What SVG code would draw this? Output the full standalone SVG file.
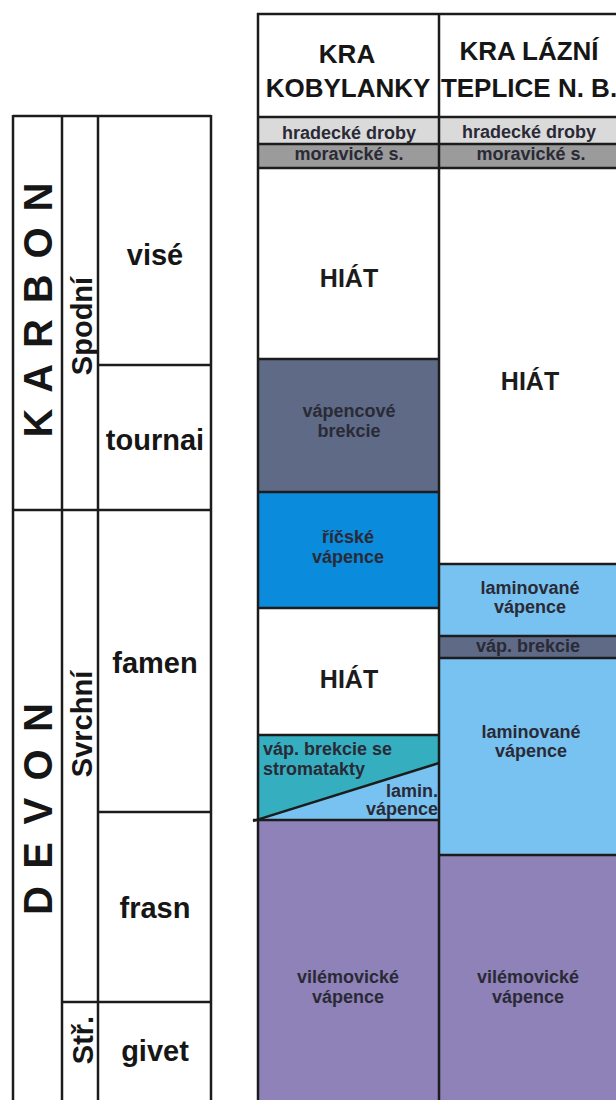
<svg xmlns="http://www.w3.org/2000/svg" width="616" height="1100" viewBox="0 0 616 1100">
<style>
text{font-family:"Liberation Sans",Arial,sans-serif;font-weight:bold}
.grid line,.grid rect{stroke:#1c1c1c;stroke-width:2.5;fill:none}
.lab{font-size:18px;fill:#2a2a36;text-anchor:middle}
.hdr{font-size:26px;fill:#161616;text-anchor:middle}
.stage{font-size:29px;fill:#161616;text-anchor:middle}
.big{font-size:40px;fill:#161616}
.hiat{font-size:25px;fill:#1c1c1c;text-anchor:middle}
.c-hrad{fill:#dadada}.c-mor{fill:#9b9b9b}.c-brek{fill:#5e6a86}.c-ric{fill:#0a8bdb}
.c-lam{fill:#78c2f1}.c-teal{fill:#35afc0}.c-vil{fill:#8e82b8}.c-w{fill:#ffffff}
</style>
<rect width="616" height="1100" fill="#ffffff"/>

<!-- left chronostratigraphic table -->
<g id="karbon"><text class="big" transform="translate(52,310) rotate(-90)" x="-127.5" y="0" textLength="255" lengthAdjust="spacing">KARBON</text></g>
<g id="devon"><text class="big" transform="translate(52,809) rotate(-90)" x="-106" y="0" textLength="212" lengthAdjust="spacing">DEVON</text></g>
<g id="spodni"><text class="stage" transform="translate(92,326) rotate(-90)" x="0" y="0">Spodní</text></g>
<g id="svrchni"><text class="stage" transform="translate(92,724) rotate(-90)" x="0" y="0">Svrchní</text></g>
<g id="str"><text class="stage" transform="translate(93,1040) rotate(-90)" x="0" y="0">Stř.</text></g>
<g id="vise"><text class="stage" x="155" y="265">visé</text></g>
<g id="tournai"><text class="stage" x="155" y="450">tournai</text></g>
<g id="famen"><text class="stage" x="155" y="673">famen</text></g>
<g id="frasn"><text class="stage" x="155" y="918">frasn</text></g>
<g id="givet"><text class="stage" x="155" y="1061">givet</text></g>

<!-- Kobylanky column -->
<g id="kob-header"><rect class="c-w" x="258" y="14" width="181" height="103"/>
<text class="hdr" x="347" y="63">KRA</text><text class="hdr" x="348" y="97">KOBYLANKY</text></g>
<g id="kob-hradecke"><rect class="c-hrad" x="258" y="117" width="181" height="27"/><text class="lab" x="349" y="139">hradecké droby</text></g>
<g id="kob-moravicke"><rect class="c-mor" x="258" y="144" width="181" height="24"/><text class="lab" x="349" y="160">moravické s.</text></g>
<g id="kob-hiat1"><rect class="c-w" x="258" y="168" width="181" height="191"/><text class="hiat" x="349" y="287">HIÁT</text></g>
<g id="kob-brekcie"><rect class="c-brek" x="258" y="359" width="181" height="133"/><text class="lab" x="349" y="417">vápencové</text><text class="lab" x="349" y="437">brekcie</text></g>
<g id="kob-ricske"><rect class="c-ric" x="258" y="492" width="181" height="116"/><text class="lab" x="348" y="543">říčské</text><text class="lab" x="348" y="563">vápence</text></g>
<g id="kob-hiat2"><rect class="c-w" x="258" y="608" width="181" height="127"/><text class="hiat" x="349" y="688">HIÁT</text></g>
<g id="kob-stromatakty"><rect class="c-teal" x="258" y="735" width="181" height="85"/><text class="lab" style="text-anchor:start" x="263" y="755">váp. brekcie se</text><text class="lab" style="text-anchor:start" x="263" y="775">stromatakty</text></g>
<g id="kob-lamin"><polygon class="c-lam" points="258,820 439,763 439,820"/><text class="lab" style="text-anchor:end" x="438" y="797">lamin.</text><text class="lab" style="text-anchor:end" x="438" y="815">vápence</text></g>
<g id="kob-vilemovicke"><rect class="c-vil" x="258" y="820" width="181" height="280"/><text class="lab" x="348" y="983">vilémovické</text><text class="lab" x="348" y="1003">vápence</text></g>

<!-- Lazni column -->
<g id="laz-header"><rect class="c-w" x="439" y="14" width="181" height="103"/>
<text class="hdr" x="529" y="60">KRA LÁZNÍ</text><text class="hdr" x="529" y="97">TEPLICE N. B.</text></g>
<g id="laz-hradecke"><rect class="c-hrad" x="439" y="117" width="181" height="27"/><text class="lab" x="529" y="138">hradecké droby</text></g>
<g id="laz-moravicke"><rect class="c-mor" x="439" y="144" width="181" height="24"/><text class="lab" x="531" y="160">moravické s.</text></g>
<g id="laz-hiat"><rect class="c-w" x="439" y="168" width="181" height="396"/><text class="hiat" x="530" y="390">HIÁT</text></g>
<g id="laz-lamin1"><rect class="c-lam" x="439" y="564" width="181" height="72"/><text class="lab" x="530" y="594">laminované</text><text class="lab" x="530" y="613">vápence</text></g>
<g id="laz-brekcie"><rect class="c-brek" x="439" y="636" width="181" height="22"/><text class="lab" x="528" y="652">váp. brekcie</text></g>
<g id="laz-lamin2"><rect class="c-lam" x="439" y="658" width="181" height="197"/><text class="lab" x="531" y="738">laminované</text><text class="lab" x="531" y="757">vápence</text></g>
<g id="laz-vilemovicke"><rect class="c-vil" x="439" y="855" width="181" height="245"/><text class="lab" x="528" y="983">vilémovické</text><text class="lab" x="528" y="1003">vápence</text></g>

<!-- grid lines -->
<g id="connectors" class="grid">
<line x1="13" y1="116" x2="211" y2="116"/>
<line x1="13" y1="115" x2="13" y2="1100"/>
<line x1="62" y1="116" x2="62" y2="1100"/>
<line x1="98" y1="116" x2="98" y2="1100"/>
<line x1="211" y1="115" x2="211" y2="1100"/>
<line x1="98" y1="365" x2="211" y2="365"/>
<line x1="13" y1="510" x2="211" y2="510"/>
<line x1="98" y1="812" x2="211" y2="812"/>
<line x1="62" y1="1002" x2="211" y2="1002"/>

<line x1="257" y1="14" x2="616" y2="14"/>
<line x1="258" y1="13" x2="258" y2="1100"/>
<line x1="439" y1="14" x2="439" y2="1100"/>
<line x1="258" y1="117" x2="616" y2="117"/>
<line x1="258" y1="144" x2="616" y2="144"/>
<line x1="258" y1="168" x2="616" y2="168"/>
<line x1="258" y1="359" x2="439" y2="359"/>
<line x1="258" y1="492" x2="439" y2="492"/>
<line x1="258" y1="608" x2="439" y2="608"/>
<line x1="258" y1="735" x2="439" y2="735"/>
<line x1="253" y1="820" x2="439" y2="820"/>
<line x1="253" y1="821" x2="439" y2="763"/>
<line x1="439" y1="564" x2="616" y2="564"/>
<line x1="439" y1="636" x2="616" y2="636"/>
<line x1="439" y1="658" x2="616" y2="658"/>
<line x1="439" y1="855" x2="616" y2="855"/>
</g>
</svg>
